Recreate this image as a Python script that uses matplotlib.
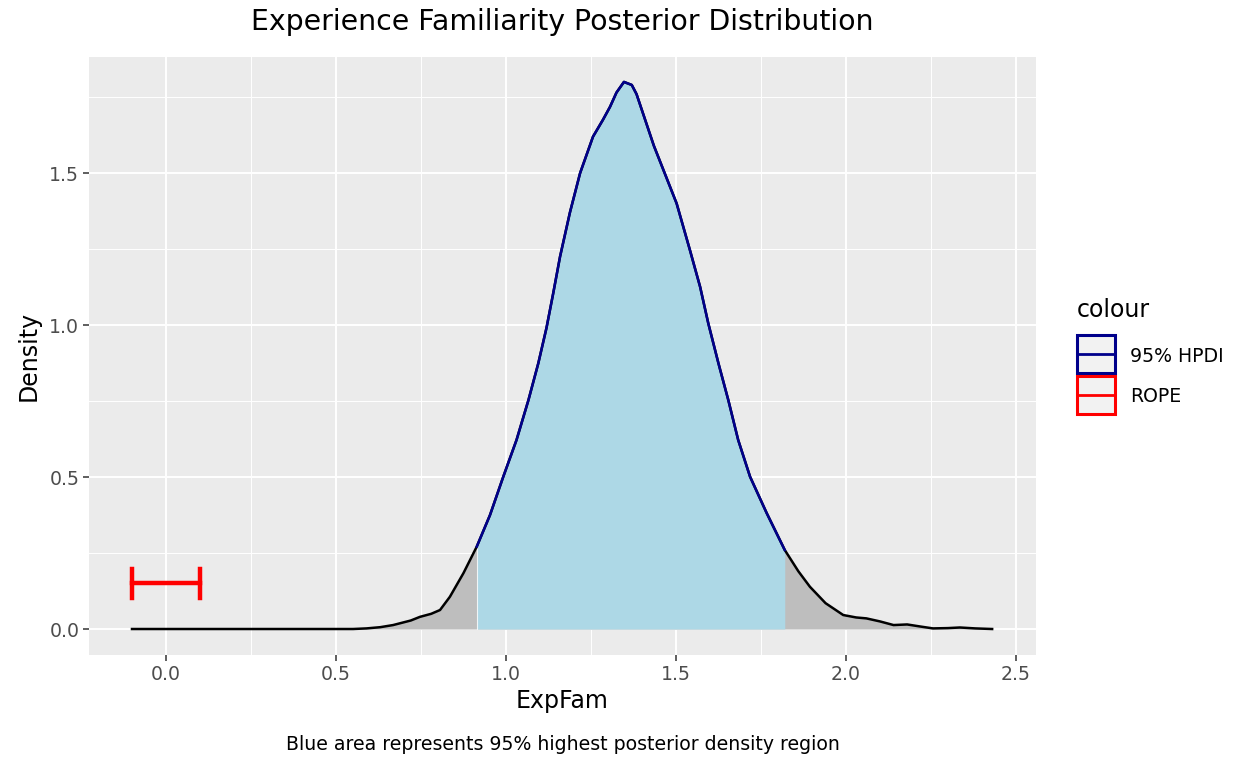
import numpy as np
import matplotlib.pyplot as plt
from matplotlib.patches import Rectangle
from matplotlib.lines import Line2D

plt.rcParams['font.family'] = ['DejaVu Sans']

# 后验密度曲线
exp_fam = [-0.1, 0.0, 0.2, 0.4, 0.55, 0.59, 0.63, 0.668, 0.72, 0.747, 0.78,
           0.806, 0.835, 0.875, 0.914, 0.953, 0.992, 1.031, 1.066, 1.095, 1.119,
           1.139, 1.159, 1.188, 1.218, 1.256, 1.285, 1.306, 1.325, 1.347, 1.37,
           1.384, 1.435, 1.502, 1.541, 1.571, 1.595, 1.625, 1.654, 1.683, 1.718,
           1.767, 1.82, 1.86, 1.894, 1.94, 1.992, 2.03, 2.06, 2.1, 2.14, 2.18,
           2.22, 2.256, 2.3, 2.335, 2.38, 2.43]
density = [0.0, 0.0, 0.0, 0.0, 0.0, 0.002, 0.006, 0.013, 0.028, 0.04, 0.05,
           0.0625, 0.106, 0.184, 0.271, 0.375, 0.501, 0.622, 0.753, 0.874, 0.99,
           1.105, 1.225, 1.37, 1.5, 1.62, 1.675, 1.718, 1.765, 1.80, 1.79,
           1.76, 1.59, 1.40, 1.247, 1.126, 1.006, 0.874, 0.753, 0.622, 0.501,
           0.381, 0.26, 0.19, 0.139, 0.085, 0.046, 0.038, 0.035, 0.025, 0.013,
           0.015, 0.008, 0.002, 0.003, 0.005, 0.002, 0.0]

HPDI_LOW, HPDI_HIGH = 0.914, 1.82
ROPE_LOW, ROPE_HIGH = -0.1, 0.1
ROPE_Y = 0.151

x_ticks = [0.0, 0.5, 1.0, 1.5, 2.0, 2.5]
y_ticks = [0.0, 0.5, 1.0, 1.5]

x = np.array(exp_fam)
y = np.array(density)
in_hpdi = (x >= HPDI_LOW) & (x <= HPDI_HIGH)

W, H = 1233, 760
fig = plt.figure(figsize=(W / 100, H / 100), dpi=100)
left, right, top, bottom = 89 / W, 1036 / W, 1 - 57 / H, 1 - 655 / H
ax = fig.add_axes([left, bottom, right - left, top - bottom])
ax.set_facecolor('#EBEBEB')
for s in ax.spines.values():
    s.set_visible(False)

# 网格
for v in x_ticks:
    ax.axvline(v, color='white', lw=1.4, zorder=0)
for v in np.arange(-0.25, 2.6, 0.5):
    ax.axvline(v, color='white', lw=0.7, zorder=0)
for v in y_ticks:
    ax.axhline(v, color='white', lw=1.4, zorder=0)
for v in [0.25, 0.75, 1.25, 1.75]:
    ax.axhline(v, color='white', lw=0.7, zorder=0)

# 填充与曲线
ax.fill_between(x, 0, y, color='#BEBEBE', lw=0, zorder=1)
ax.fill_between(x[in_hpdi], 0, y[in_hpdi], color='#ADD8E6', lw=0, zorder=2)
ax.plot([HPDI_LOW, HPDI_LOW], [0, y[in_hpdi][0]], color='white', lw=0.8, alpha=0.8, zorder=2)
ax.plot(x, y, color='black', lw=1.8, zorder=3, solid_joinstyle='round')
ax.plot(x[in_hpdi], y[in_hpdi], color='#00008B', lw=1.8, zorder=4, solid_joinstyle='round')

# ROPE 误差条
ax.plot([ROPE_LOW, ROPE_HIGH], [ROPE_Y, ROPE_Y], color='red', lw=3.2, zorder=5)
for v in [ROPE_LOW, ROPE_HIGH]:
    ax.plot([v, v], [ROPE_Y - 0.048, ROPE_Y + 0.048], color='red', lw=3.2, zorder=5)

ax.set_xlim(-0.2265, 2.559)
ax.set_ylim(-0.0855, 1.882)
ax.set_xticks(x_ticks)
ax.set_xticklabels([f'{v:.1f}' for v in x_ticks])
ax.set_yticks(y_ticks)
ax.set_yticklabels([f'{v:.1f}' for v in y_ticks])
ax.tick_params(colors='#333333', labelcolor='#4D4D4D', labelsize=13.6,
               length=4, width=1.1, pad=3)

ax.set_xlabel('ExpFam', fontsize=17, color='black', labelpad=4)
ax.set_ylabel('Density', fontsize=17, color='black', labelpad=6)

cx = (left + right) / 2
fig.text(cx, 1 - 22 / H, 'Experience Familiarity Posterior Distribution',
         ha='center', va='center', fontsize=20.4)
fig.text(cx, 1 - 745 / H, 'Blue area represents 95% highest posterior density region',
         ha='center', va='center', fontsize=13.6)

# 图例
fig.text(1077 / W, 1 - 310 / H, 'colour', fontsize=17, va='center', ha='left')
legend_items = [('95% HPDI', '#00008B', 335), ('ROPE', 'red', 376)]
for label, col, ktop in legend_items:
    fig.add_artist(Rectangle((1077 / W, 1 - (ktop + 38) / H), 38 / W, 38 / H,
                             transform=fig.transFigure, facecolor='#F2F2F2',
                             edgecolor=col, lw=2.2))
    fig.add_artist(Line2D([1077 / W, 1115 / W], [1 - (ktop + 19) / H] * 2,
                          transform=fig.transFigure, color=col, lw=2.0))
    fig.text(1130 / W, 1 - (ktop + 21) / H, label, fontsize=13.6, va='center', ha='left')

fig.savefig('out.png', dpi=100)
